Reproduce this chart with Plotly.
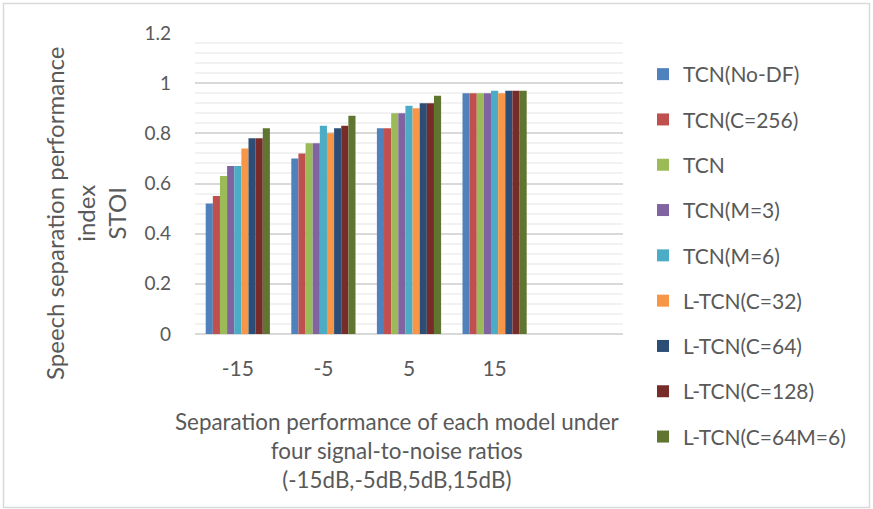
import plotly.graph_objects as go

# SNR conditions (dB) and STOI scores per model
snr_levels = ["-15", "-5", "5", "15"]
models = [
    "TCN(No-DF)", "TCN(C=256)", "TCN", "TCN(M=3)", "TCN(M=6)",
    "L-TCN(C=32)", "L-TCN(C=64)", "L-TCN(C=128)", "L-TCN(C=64M=6)",
]
stoi_no_df = [0.52, 0.70, 0.82, 0.96]
stoi_c256 = [0.55, 0.72, 0.82, 0.96]
stoi_tcn = [0.63, 0.76, 0.88, 0.96]
stoi_m3 = [0.67, 0.76, 0.88, 0.96]
stoi_m6 = [0.67, 0.83, 0.91, 0.97]
stoi_l_c32 = [0.74, 0.80, 0.90, 0.96]
stoi_l_c64 = [0.78, 0.82, 0.92, 0.97]
stoi_l_c128 = [0.78, 0.83, 0.92, 0.97]
stoi_l_c64_m6 = [0.82, 0.87, 0.95, 0.97]

series = [stoi_no_df, stoi_c256, stoi_tcn, stoi_m3, stoi_m6,
          stoi_l_c32, stoi_l_c64, stoi_l_c128, stoi_l_c64_m6]
colors = ["#4F81BD", "#C0504D", "#9BBB59", "#8064A2", "#4BACC6",
          "#F79646", "#2C4D75", "#772C2A", "#5F7530"]

W, H = 873, 509
ML, MR, MT, MB = 195, 250, 33, 175
FONT = "Lato, Carlito, 'Liberation Sans', sans-serif"
TXT = "#595959"

fig = go.Figure()
for i, (name, vals, col) in enumerate(zip(models, series, colors)):
    fig.add_trace(go.Bar(
        x=snr_levels, y=vals, name=name, legendgroup=f"g{i}",
        marker=dict(color=col, line=dict(width=0)),
    ))

pw = W - ML - MR
ph = H - MT - MB


def px2paper_x(px):
    return (px - ML) / pw


def px2paper_y(py):
    return (H - MB - py) / ph


# outer chart frame
fig.add_shape(type="rect", xref="paper", yref="paper",
              x0=px2paper_x(3.5), x1=px2paper_x(869.5),
              y0=px2paper_y(507.5), y1=px2paper_y(3.5),
              line=dict(color="#D9D9D9", width=1.5), layer="below")

fig.add_annotation(
    text="Speech separation performance<br>index<br>STOI",
    textangle=-90, xref="paper", yref="paper",
    x=px2paper_x(85), y=px2paper_y(214),
    xanchor="center", yanchor="middle", showarrow=False,
    font=dict(family=FONT, size=24, color=TXT), align="center",
)
fig.add_annotation(
    text="Separation performance of each model under<br>four signal-to-noise ratios<br>(-15dB,-5dB,5dB,15dB)",
    xref="paper", yref="paper",
    x=px2paper_x(397), y=px2paper_y(450),
    xanchor="center", yanchor="middle", showarrow=False,
    font=dict(family=FONT, size=22.4, color=TXT), align="center",
)

fig.update_layout(
    width=W, height=H,
    margin=dict(l=ML, r=MR, t=MT, b=MB),
    paper_bgcolor="white", plot_bgcolor="white",
    barmode="group", bargap=0.25, bargroupgap=0,
    font=dict(family=FONT, size=21, color=TXT),
    showlegend=True,
    legend=dict(
        xref="container", yref="container",
        x=643 / W, y=1 - 54 / H, xanchor="left", yanchor="top",
        font=dict(family=FONT, size=21, color=TXT),
        traceorder="grouped", tracegroupgap=15, itemwidth=30,
        maxheight=470,
        bgcolor="rgba(0,0,0,0)",
    ),
    xaxis=dict(
        type="category", categoryorder="array", categoryarray=snr_levels,
        range=[-0.5, 4.5], showgrid=False, showline=False, ticks="",
        tickfont=dict(size=21, color=TXT), zeroline=False,
        ticklabelstandoff=20,
    ),
    yaxis=dict(
        range=[0, 1.2], dtick=0.2, tick0=0, showgrid=True,
        gridcolor="#D9D9D9", gridwidth=1.5, zeroline=True,
        zerolinecolor="#D9D9D9", zerolinewidth=2,
        showline=False, ticks="", tickfont=dict(size=19, color=TXT),
        ticklabelstandoff=23,
        minor=dict(dtick=0.04, showgrid=True, gridcolor="#F2F2F2",
                   gridwidth=1.5),
    ),
)

fig.write_html("out.html")
